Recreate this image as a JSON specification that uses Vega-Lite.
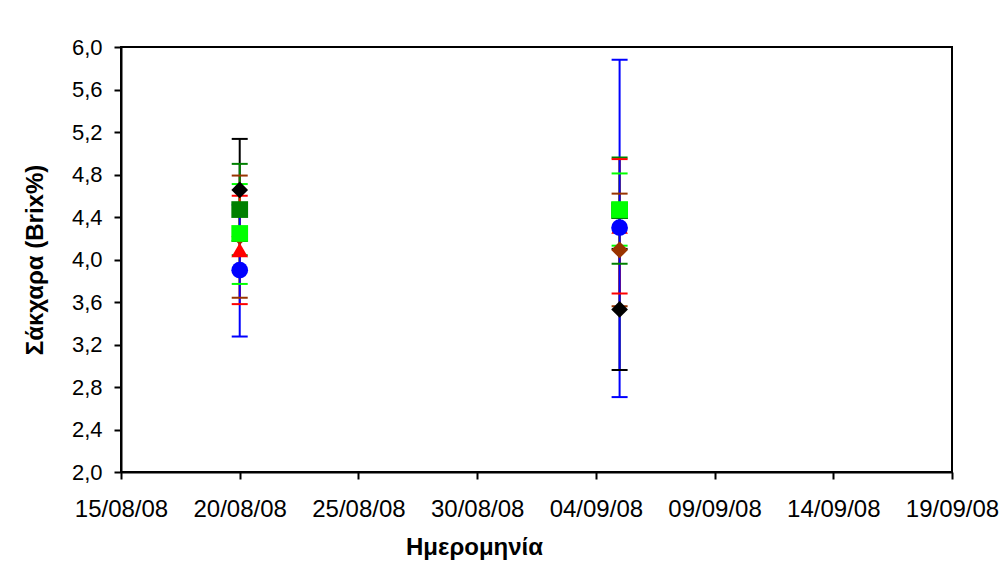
{
  "$schema": "https://vega.github.io/schema/vega-lite/v6.json",
  "autosize": {"type": "none"},
  "padding": {"left": 121, "top": 47, "right": 48, "bottom": 93},
  "width": 831,
  "height": 425,
  "background": "white",
  "config": {
    "font": "Liberation Sans",
    "view": {"stroke": "black", "strokeWidth": 2}
  },
  "data": {
    "values": [
      {"date": "2008-08-20T00:00:00", "series": "s1", "sugar": 4.655, "lo": 4.175, "hi": 5.135},
      {"date": "2008-09-05T00:00:00", "series": "s1", "sugar": 3.53, "lo": 2.96, "hi": 4.1},
      {"date": "2008-08-20T00:00:00", "series": "s2", "sugar": 4.215, "lo": 3.64, "hi": 4.79},
      {"date": "2008-09-05T00:00:00", "series": "s2", "sugar": 4.09, "lo": 3.56, "hi": 4.62},
      {"date": "2008-08-20T00:00:00", "series": "s3", "sugar": 4.47, "lo": 4.04, "hi": 4.9},
      {"date": "2008-09-05T00:00:00", "series": "s3", "sugar": 4.46, "lo": 3.96, "hi": 4.96},
      {"date": "2008-08-20T00:00:00", "series": "s4", "sugar": 4.245, "lo": 3.77, "hi": 4.71},
      {"date": "2008-09-05T00:00:00", "series": "s4", "sugar": 4.47, "lo": 4.13, "hi": 4.81},
      {"date": "2008-08-20T00:00:00", "series": "s5", "sugar": 4.09, "lo": 3.58, "hi": 4.6},
      {"date": "2008-09-05T00:00:00", "series": "s5", "sugar": 4.31, "lo": 3.68, "hi": 4.945},
      {"date": "2008-08-20T00:00:00", "series": "s6", "sugar": 3.9, "lo": 3.275, "hi": 4.515},
      {"date": "2008-09-05T00:00:00", "series": "s6", "sugar": 4.3, "lo": 2.705, "hi": 5.88}
    ]
  },
  "encoding": {
    "x": {
      "field": "date",
      "type": "temporal",
      "scale": {"domain": [{"year": 2008, "month": 8, "date": 15}, {"year": 2008, "month": 9, "date": 19}]},
      "axis": {
        "values": [
          {"year": 2008, "month": 8, "date": 15},
          {"year": 2008, "month": 8, "date": 20},
          {"year": 2008, "month": 8, "date": 25},
          {"year": 2008, "month": 8, "date": 30},
          {"year": 2008, "month": 9, "date": 4},
          {"year": 2008, "month": 9, "date": 9},
          {"year": 2008, "month": 9, "date": 14},
          {"year": 2008, "month": 9, "date": 19}
        ],
        "format": "%d/%m/%y",
        "title": "Ημερομηνία",
        "grid": false,
        "labelFlush": false,
        "labelOverlap": false,
        "tickSize": 7,
        "tickWidth": 2,
        "tickColor": "black",
        "domainColor": "black",
        "domainWidth": 2,
        "labelFont": "Liberation Sans",
        "labelFontSize": 24,
        "labelColor": "black",
        "labelBaseline": "alphabetic",
        "labelPadding": 37,
        "titleFont": "Liberation Sans",
        "titleFontSize": 24,
        "titleFontWeight": "bold",
        "titleColor": "black",
        "titleX": 353,
        "titleY": 82,
        "titleAlign": "center",
        "titleBaseline": "alphabetic"
      }
    },
    "color": {
      "field": "series",
      "type": "nominal",
      "scale": {
        "domain": ["s1", "s2", "s3", "s4", "s5", "s6"],
        "range": ["#000000", "#993300", "#008000", "#00FF00", "#FF0000", "#0000FF"]
      },
      "legend": null
    }
  },
  "layer": [
    {
      "mark": {"type": "rule", "strokeWidth": 2},
      "encoding": {
        "y": {
          "field": "lo",
          "type": "quantitative",
          "scale": {"domain": [2, 6], "nice": false, "zero": false},
          "axis": {
            "values": [2, 2.4, 2.8, 3.2, 3.6, 4, 4.4, 4.8, 5.2, 5.6, 6],
            "labelExpr": "replace(format(datum.value, '.1f'), '.', ',')",
            "title": "Σάκχαρα (Brix%)",
            "grid": false,
            "tickSize": 7,
            "tickWidth": 2,
            "tickColor": "black",
            "domainColor": "black",
            "domainWidth": 2,
            "labelFont": "Liberation Sans",
            "labelFontSize": 22,
            "labelColor": "black",
            "labelPadding": 12,
            "titleFont": "Liberation Sans",
            "titleFontSize": 24,
            "titleFontWeight": "bold",
            "titleColor": "black",
            "titleX": -79,
            "titleBaseline": "alphabetic"
          }
        },
        "y2": {"field": "hi"}
      }
    },
    {
      "mark": {"type": "tick", "orient": "horizontal", "size": 16, "thickness": 2, "opacity": 1},
      "encoding": {
        "y": {"field": "lo", "type": "quantitative"}
      }
    },
    {
      "mark": {"type": "tick", "orient": "horizontal", "size": 16, "thickness": 2, "opacity": 1},
      "encoding": {
        "y": {"field": "hi", "type": "quantitative"}
      }
    },
    {
      "mark": {"type": "point", "filled": true, "opacity": 1, "strokeWidth": 0},
      "encoding": {
        "y": {"field": "sugar", "type": "quantitative"},
        "shape": {
          "field": "series",
          "type": "nominal",
          "scale": {
            "domain": ["s1", "s2", "s3", "s4", "s5", "s6"],
            "range": ["diamond", "diamond", "square", "square", "triangle-up", "circle"]
          },
          "legend": null
        },
        "size": {
          "field": "series",
          "type": "nominal",
          "scale": {
            "domain": ["s1", "s2", "s3", "s4", "s5", "s6"],
            "range": [280, 280, 190, 190, 290, 200]
          },
          "legend": null
        }
      }
    }
  ]
}
